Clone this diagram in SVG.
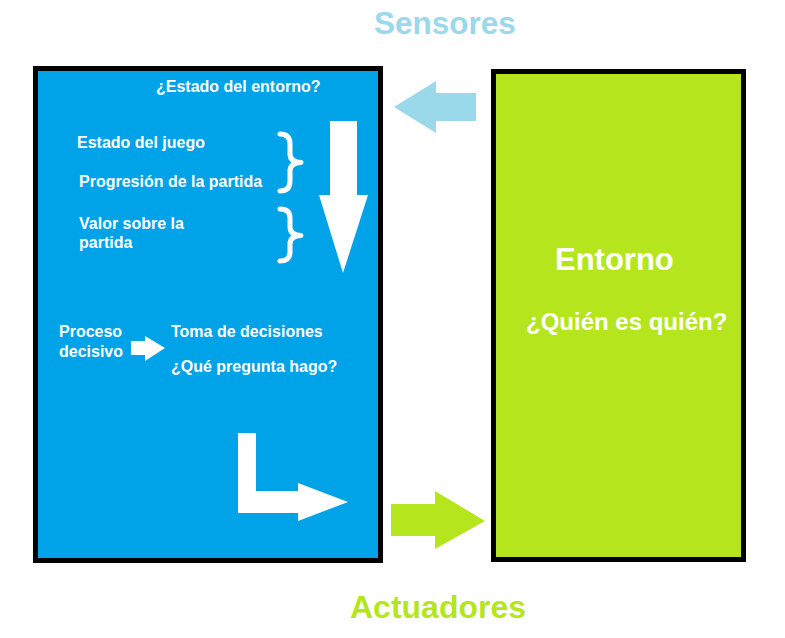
<svg xmlns="http://www.w3.org/2000/svg" width="785" height="638" viewBox="0 0 785 638">
<style>
.t{font-family:"Liberation Sans",Arial,sans-serif;font-weight:bold;fill:#fff}
.s{font-size:16px}
.box{stroke:#000;stroke-width:5}
.w{fill:#fff}
.br{fill:none;stroke:#fff;stroke-width:5;stroke-linecap:round;stroke-linejoin:round}
</style>
<rect width="785" height="638" fill="#fff"/>
<text class="t" x="374" y="34" font-size="31.5" style="fill:#99D9EA">Sensores</text>
<text class="t" x="350" y="618" font-size="32" style="fill:#B5E61D">Actuadores</text>
<g id="agente">
<rect class="box" x="35.5" y="68.5" width="345" height="492" fill="#00A2E8"/>
<text class="t s" x="156" y="92">¿Estado del entorno?</text>
<text class="t s" x="77" y="148">Estado del juego</text>
<text class="t s" x="79" y="187">Progresión de la partida</text>
<text class="t s" x="79" y="229">Valor sobre la</text>
<text class="t s" x="79" y="248">partida</text>
<text class="t s" x="59" y="337">Proceso</text>
<text class="t s" x="59" y="357">decisivo</text>
<text class="t s" x="171" y="337">Toma de decisiones</text>
<text class="t s" x="171" y="372">¿Qué pregunta hago?</text>
<path class="br" d="M280,134 Q290,134 290,144 L290,154 Q290,162 301,162.5 Q290,163 290,171 L290,181 Q290,191 280,191"/>
<path class="br" d="M280,209 Q290,209 290,218 L290,227 Q290,235 301,235.5 Q290,236 290,244 L290,252 Q290,261 280,261"/>
<polygon class="w" points="330,121 357,121 357,195 368,195 343,273 319,195 330,195"/>
<polygon class="w" points="131,341 145,341 145,336 165,348 145,361 145,355 131,355"/>
<polygon class="w" points="238,433 256,433 256,491 298,491 298,483 348,502 298,521 298,513 238,513"/>
</g>
<g id="entorno">
<rect class="box" x="493.5" y="71.5" width="250" height="488" fill="#B5E61D"/>
<text class="t" x="555" y="270" font-size="31">Entorno</text>
<text class="t" x="526" y="330" font-size="24">¿Quién es quién?</text>
</g>
<g id="connectors">
<polygon fill="#99D9EA" points="476,93 476,121 436,121 436,133 394,107 436,81 436,93"/>
<polygon fill="#B5E61D" points="391,504 435,504 435,491 485,521 435,549 435,536 391,536"/>
</g>
</svg>
